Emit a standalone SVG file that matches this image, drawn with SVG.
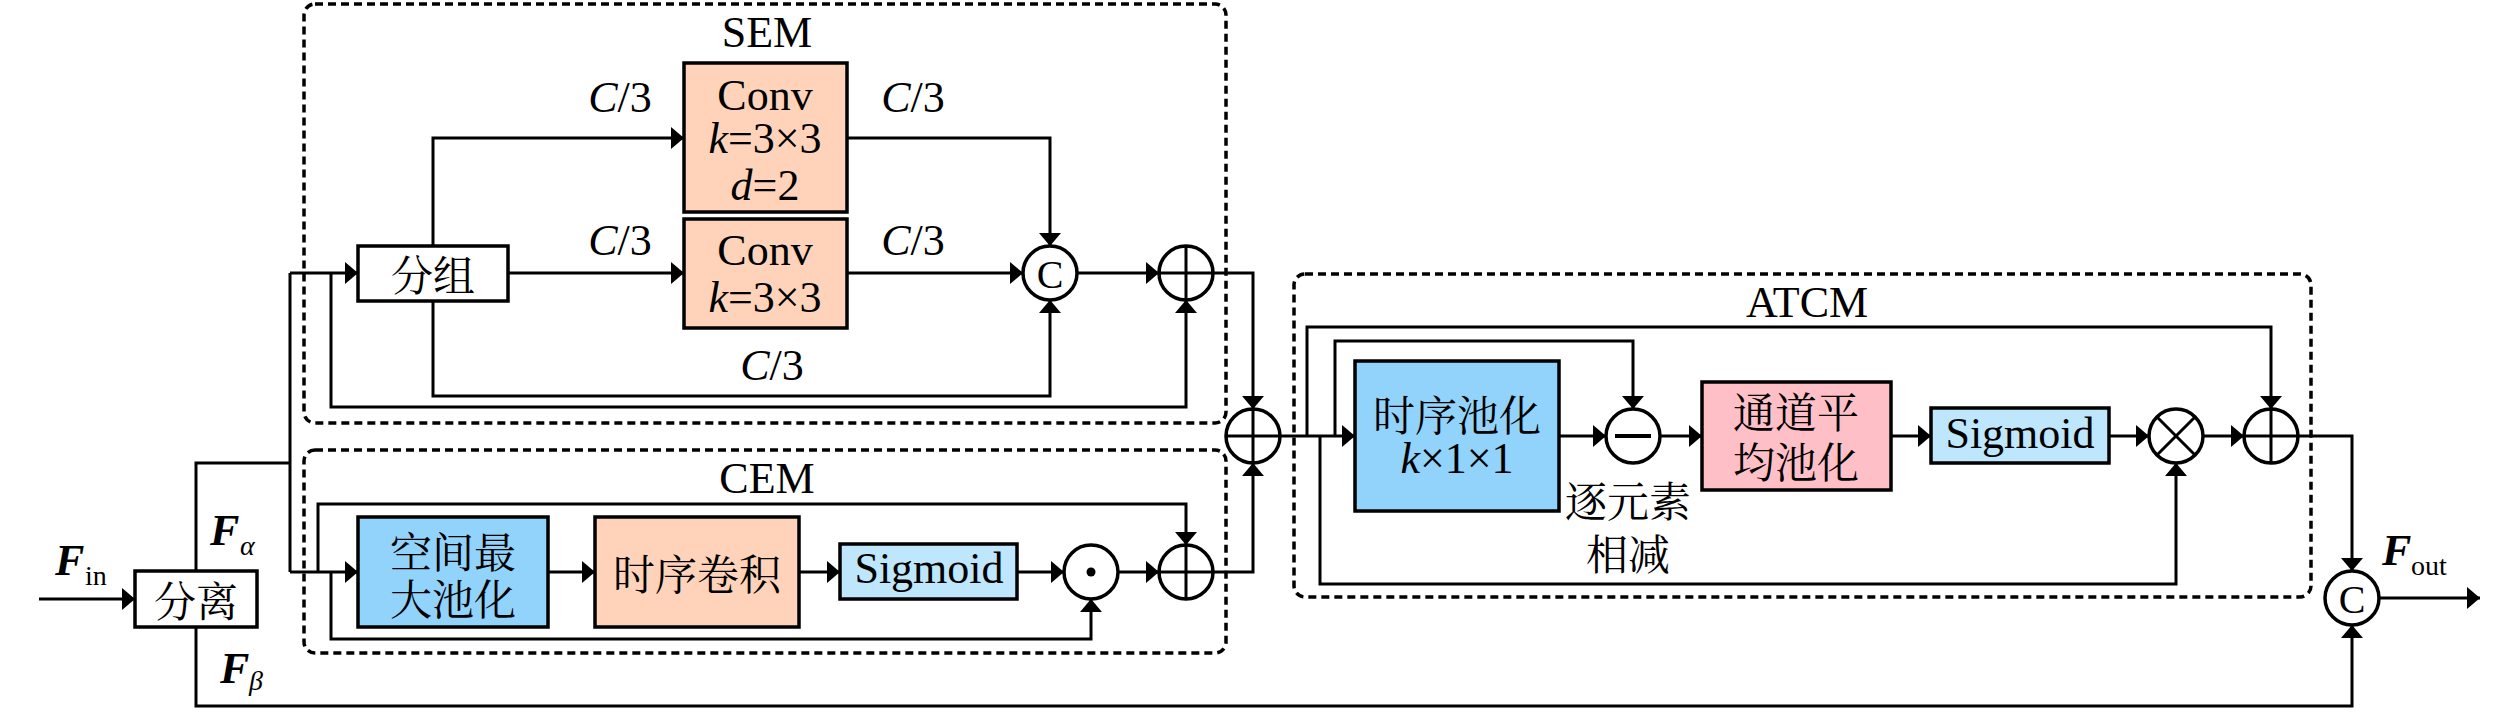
<svg xmlns="http://www.w3.org/2000/svg" width="2520" height="712" viewBox="0 0 2520 712">
<style>
.bg{fill:#ffffff}
.mod{fill:none;stroke:#000;stroke-width:3.5;stroke-dasharray:8 5}
.box{stroke:#000;stroke-width:3.5}
.w{fill:#ffffff}
.peach{fill:#FFD3BA}
.blue{fill:#92D3FC}
.lblue{fill:#BEE6FC}
.pink{fill:#FFBFC7}
.op{fill:#ffffff;stroke:#000;stroke-width:3.5}
.sym{stroke:#000;stroke-width:3;fill:none}
.ln{fill:none;stroke:#000;stroke-width:3;marker-end:url(#arr)}
.pl{fill:none;stroke:#000;stroke-width:3}
.t{font-family:"Liberation Serif","DejaVu Serif",serif;font-size:44px;fill:#000}
.ti{font-family:"Liberation Serif","DejaVu Serif",serif;font-size:44px;font-style:italic;fill:#000}
.cj{font-family:"Noto Serif CJK SC","Noto Sans CJK SC",serif;font-size:42px;fill:#000}
.fb{font-family:"Liberation Serif","DejaVu Serif",serif;font-size:44px;font-style:italic;font-weight:bold;fill:#000}
.sub{font-family:"Liberation Serif","DejaVu Serif",serif;font-size:28px;fill:#000}
.subi{font-family:"Liberation Serif","DejaVu Serif",serif;font-size:28px;font-style:italic;fill:#000}
</style>
<defs>
<marker id="arr" viewBox="0 0 13 22" refX="13" refY="11" markerWidth="13" markerHeight="22" orient="auto" markerUnits="userSpaceOnUse">
<path d="M0,0 L13,11 L0,22 Z" fill="#000"/>
</marker>
</defs>
<rect class="bg" x="0" y="0" width="2520" height="712"/>

<g id="SEM">
<rect class="mod" x="304" y="4" width="922" height="419" rx="11"/>
<text class="t" x="767" y="47" text-anchor="middle">SEM</text>
</g>
<g id="CEM">
<rect class="mod" x="304" y="450" width="922" height="203" rx="11"/>
<text class="t" x="767" y="493" text-anchor="middle">CEM</text>
</g>
<g id="ATCM">
<rect class="mod" x="1294" y="274" width="1017" height="323" rx="11"/>
<text class="t" x="1807" y="317" text-anchor="middle">ATCM</text>
</g>

<g id="connectors">
<path class="ln" d="M39,599 H135"/>
<path class="pl" d="M196,571 V463 H290"/>
<path class="pl" d="M290,273 V572"/>
<path class="ln" d="M290,273 H358"/>
<path class="ln" d="M290,572 H358"/>
<path class="ln" d="M433,246 V138 H684"/>
<path class="ln" d="M508,273 H684"/>
<path class="ln" d="M433,301 V396 H1050 V300"/>
<path class="ln" d="M331,273 V407 H1186 V300"/>
<path class="ln" d="M847,138 H1050 V246"/>
<path class="ln" d="M847,273 H1023"/>
<path class="ln" d="M1077,273 H1159"/>
<path class="ln" d="M1213,273 H1253 V409"/>
<path class="ln" d="M318,572 V504 H1186 V545"/>
<path class="ln" d="M331,572 V639 H1091 V599"/>
<path class="ln" d="M548,572 H595"/>
<path class="ln" d="M799,572 H840"/>
<path class="ln" d="M1017,572 H1064"/>
<path class="ln" d="M1118,572 H1159"/>
<path class="ln" d="M1213,572 H1253 V463"/>
<path class="ln" d="M1280,436 H1355"/>
<path class="ln" d="M1307,436 V327 H2271 V409"/>
<path class="ln" d="M1335,436 V341 H1633 V409"/>
<path class="ln" d="M1320,436 V584 H2176 V463"/>
<path class="ln" d="M1559,436 H1606"/>
<path class="ln" d="M1660,436 H1702"/>
<path class="ln" d="M1891,436 H1931"/>
<path class="ln" d="M2109,436 H2149"/>
<path class="ln" d="M2203,436 H2244"/>
<path class="ln" d="M2298,436 H2352 V571"/>
<path class="ln" d="M196,627 V706 H2352 V625"/>
<path class="ln" d="M2379,598 H2480"/>
</g>

<g id="labels">
<text class="t" x="620" y="112" text-anchor="middle"><tspan class="ti">C</tspan>/3</text>
<text class="t" x="913" y="112" text-anchor="middle"><tspan class="ti">C</tspan>/3</text>
<text class="t" x="620" y="255" text-anchor="middle"><tspan class="ti">C</tspan>/3</text>
<text class="t" x="913" y="255" text-anchor="middle"><tspan class="ti">C</tspan>/3</text>
<text class="t" x="772" y="380" text-anchor="middle"><tspan class="ti">C</tspan>/3</text>
<text class="fb" x="55" y="575">F</text><text class="sub" x="85" y="585">in</text>
<text class="fb" x="210" y="545">F</text><text class="subi" x="240" y="555">α</text>
<text class="fb" x="220" y="683">F</text><text class="subi" x="249" y="690">β</text>
<text class="fb" x="2382" y="565">F</text><text class="sub" x="2411" y="575">out</text>
<text class="cj" x="1628" y="499" text-anchor="middle" dominant-baseline="central">逐元素</text>
<text class="cj" x="1628" y="552" text-anchor="middle" dominant-baseline="central">相减</text>
</g>

<g id="split">
<rect class="box w" x="135" y="571" width="122" height="56"/>
<text class="cj" x="196" y="599" text-anchor="middle" dominant-baseline="central">分离</text>
</g>
<g id="group">
<rect class="box w" x="358" y="246" width="150" height="55"/>
<text class="cj" x="433" y="273" text-anchor="middle" dominant-baseline="central">分组</text>
</g>
<g id="conv1">
<rect class="box peach" x="684" y="63" width="163" height="149"/>
<text class="t" x="765" y="110" text-anchor="middle">Conv</text>
<text class="t" x="765" y="153" text-anchor="middle"><tspan class="ti">k</tspan>=3×3</text>
<text class="t" x="765" y="200" text-anchor="middle"><tspan class="ti">d</tspan>=2</text>
</g>
<g id="conv2">
<rect class="box peach" x="684" y="219" width="163" height="109"/>
<text class="t" x="765" y="265" text-anchor="middle">Conv</text>
<text class="t" x="765" y="312" text-anchor="middle"><tspan class="ti">k</tspan>=3×3</text>
</g>
<g id="concat1">
<circle class="op" cx="1050" cy="273" r="27"/>
<text class="t" x="1050" y="288" text-anchor="middle" style="font-size:40px">C</text>
</g>
<g id="semadd">
<circle class="op" cx="1186" cy="273" r="27"/>
<path class="sym" d="M1159,273 H1213 M1186,246 V300"/>
</g>
<g id="spmax">
<rect class="box blue" x="358" y="517" width="190" height="110"/>
<text class="cj" x="453" y="550" text-anchor="middle" dominant-baseline="central">空间最</text>
<text class="cj" x="453" y="597" text-anchor="middle" dominant-baseline="central">大池化</text>
</g>
<g id="tconv">
<rect class="box peach" x="595" y="517" width="204" height="110"/>
<text class="cj" x="697" y="572" text-anchor="middle" dominant-baseline="central">时序卷积</text>
</g>
<g id="sig1">
<rect class="box lblue" x="840" y="544" width="177" height="55"/>
<text class="t" x="929" y="583" text-anchor="middle">Sigmoid</text>
</g>
<g id="dotmul">
<circle class="op" cx="1091" cy="572" r="27"/>
<circle cx="1091" cy="572" r="4.5" fill="#000"/>
</g>
<g id="cemadd">
<circle class="op" cx="1186" cy="572" r="27"/>
<path class="sym" d="M1159,572 H1213 M1186,545 V599"/>
</g>
<g id="mergeadd">
<circle class="op" cx="1253" cy="436" r="27"/>
<path class="sym" d="M1226,436 H1280 M1253,409 V463"/>
</g>
<g id="tpool">
<rect class="box blue" x="1355" y="361" width="204" height="150"/>
<text class="cj" x="1457" y="413" text-anchor="middle" dominant-baseline="central">时序池化</text>
<text class="t" x="1457" y="473" text-anchor="middle"><tspan class="ti">k</tspan>×1×1</text>
</g>
<g id="sub">
<circle class="op" cx="1633" cy="436" r="27"/>
<path class="sym" d="M1615,436 H1651" style="stroke-width:4"/>
</g>
<g id="cavg">
<rect class="box pink" x="1702" y="382" width="189" height="108"/>
<text class="cj" x="1796" y="410" text-anchor="middle" dominant-baseline="central">通道平</text>
<text class="cj" x="1796" y="460" text-anchor="middle" dominant-baseline="central">均池化</text>
</g>
<g id="sig2">
<rect class="box lblue" x="1931" y="408" width="178" height="55"/>
<text class="t" x="2020" y="448" text-anchor="middle">Sigmoid</text>
</g>
<g id="mul">
<circle class="op" cx="2176" cy="436" r="27"/>
<path class="sym" d="M2157,417 L2195,455 M2195,417 L2157,455"/>
</g>
<g id="atcmadd">
<circle class="op" cx="2271" cy="436" r="27"/>
<path class="sym" d="M2244,436 H2298 M2271,409 V463"/>
</g>
<g id="concat2">
<circle class="op" cx="2352" cy="598" r="27"/>
<text class="t" x="2352" y="613" text-anchor="middle" style="font-size:40px">C</text>
</g>
</svg>
